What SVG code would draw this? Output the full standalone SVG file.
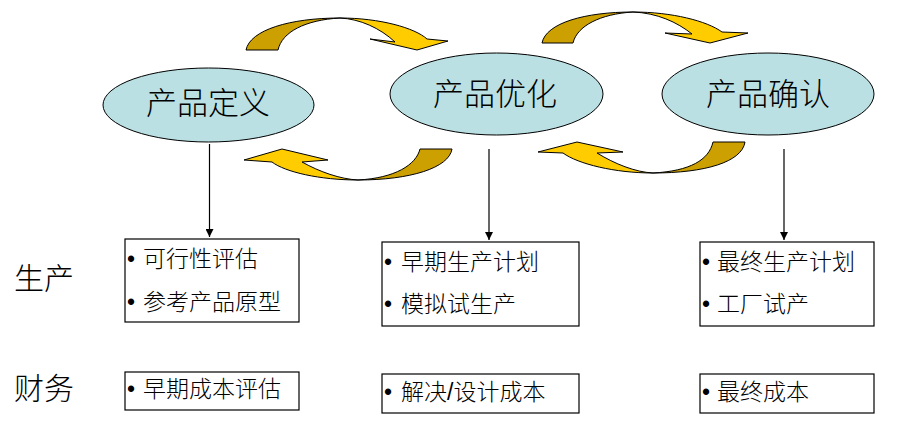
<svg xmlns="http://www.w3.org/2000/svg" width="912" height="428" viewBox="0 0 912 428">
<defs>
<style>
.ell{fill:#BBE0E3;stroke:#000;stroke-width:1}
.box{fill:#fff;stroke:#000;stroke-width:1.2}
.dark{fill:#CCA000;stroke:#000;stroke-width:1}
.light{fill:#FFCC00;stroke:#000;stroke-width:1}
.t{font-family:"Liberation Sans","Noto Sans CJK SC",sans-serif;fill:#000;font-weight:300}
.big{font-size:31px}
.lab{font-size:30px}
.item{font-size:23px}
.conn{stroke:#000;stroke-width:1.2;fill:none}
</style>
<marker id="ah" viewBox="0 0 10 10" refX="10" refY="5" markerWidth="8" markerHeight="8" markerUnits="userSpaceOnUse" orient="auto">
<path d="M0,0 L10,5 L0,10 Z" fill="#000"/>
</marker>
</defs>
<rect width="912" height="428" fill="#fff"/>

<g id="cycle-arrows">
<g id="arrow-def-opt">
<path class="dark" d="M246,50 C250,30 290,18 340,18 C305,20 282,32 278,50 Z"/>
<path class="light" d="M340,18 C380,18 415,28 427,39 L448,41 L417,50 L370,39 L395,42 C380,28 360,19 340,18 Z"/>
</g>
<g id="arrow-opt-conf">
<path class="dark" d="M542,43 C546,23 585,12 633,12 C600,14 577,26 573,43 Z"/>
<path class="light" d="M633,12 C672,12 707,21 722,32 L748,33 L710,43 L665,33 L692,34 C677,22 657,13 633,12 Z"/>
</g>
<g id="arrow-opt-def">
<path class="dark" d="M452,149 C449,168 410,180 358,180 C395,178 416,165 420,149 Z"/>
<path class="light" d="M358,180 C320,180 285,172 272,162 L244,160 L282,149 L328,160 L302,162 C320,172 340,179 358,180 Z"/>
</g>
<g id="arrow-conf-opt">
<path class="dark" d="M745,142 C742,162 705,173 653,173 C690,171 709,160 713,142 Z"/>
<path class="light" d="M653,173 C615,173 578,164 563,153 L538,152 L577,142 L623,152 L597,153 C615,164 635,172 653,173 Z"/>
</g>
</g>

<g id="connectors">
<line class="conn" x1="209.5" y1="144" x2="209.5" y2="237" marker-end="url(#ah)"/>
<line class="conn" x1="489" y1="149" x2="489" y2="240" marker-end="url(#ah)"/>
<line class="conn" x1="784" y1="149" x2="784" y2="240" marker-end="url(#ah)"/>
</g>

<g id="node-define">
<ellipse class="ell" cx="208.5" cy="105" rx="105.5" ry="37"/>
<text class="t big" x="208" y="114" text-anchor="middle">产品定义</text>
</g>
<g id="node-optimize">
<ellipse class="ell" cx="496.5" cy="94" rx="106.5" ry="41"/>
<text class="t big" x="495" y="105" text-anchor="middle">产品优化</text>
</g>
<g id="node-confirm">
<ellipse class="ell" cx="768" cy="94" rx="106" ry="41"/>
<text class="t big" x="768" y="105" text-anchor="middle">产品确认</text>
</g>

<g id="label-production">
<text class="t lab" x="14" y="289">生产</text>
</g>
<g id="label-finance">
<text class="t lab" x="14" y="399">财务</text>
</g>

<g id="box-prod-1">
<rect class="box" x="125" y="239" width="174" height="83"/>
<text class="t item" y="267"><tspan x="127">•</tspan><tspan x="143">可行性评估</tspan></text>
<text class="t item" y="310"><tspan x="127">•</tspan><tspan x="143">参考产品原型</tspan></text>
</g>
<g id="box-prod-2">
<rect class="box" x="382" y="242" width="197" height="84"/>
<text class="t item" y="270"><tspan x="384">•</tspan><tspan x="401">早期生产计划</tspan></text>
<text class="t item" y="312"><tspan x="384">•</tspan><tspan x="401">模拟试生产</tspan></text>
</g>
<g id="box-prod-3">
<rect class="box" x="700" y="242" width="174" height="84"/>
<text class="t item" y="270"><tspan x="702">•</tspan><tspan x="717">最终生产计划</tspan></text>
<text class="t item" y="312"><tspan x="702">•</tspan><tspan x="717">工厂试产</tspan></text>
</g>
<g id="box-fin-1">
<rect class="box" x="125" y="372" width="174" height="38"/>
<text class="t item" y="397"><tspan x="127">•</tspan><tspan x="143">早期成本评估</tspan></text>
</g>
<g id="box-fin-2">
<rect class="box" x="382" y="374" width="197" height="39"/>
<text class="t item" y="400"><tspan x="384">•</tspan><tspan x="401">解决/设计成本</tspan></text>
</g>
<g id="box-fin-3">
<rect class="box" x="700" y="374" width="174" height="39"/>
<text class="t item" y="400"><tspan x="702">•</tspan><tspan x="717">最终成本</tspan></text>
</g>
</svg>
